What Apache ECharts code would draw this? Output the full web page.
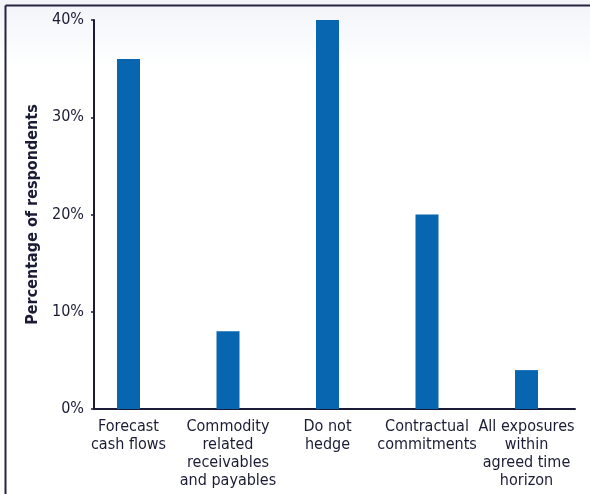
<!DOCTYPE html>
<html>
<head>
<meta charset="utf-8">
<script src="https://cdn.jsdelivr.net/npm/echarts@6/dist/echarts.min.js"></script>
<style>
  html, body { margin: 0; padding: 0; background: #ffffff; }
  #chart { width: 590px; height: 494px; }
</style>
</head>
<body>
<div id="chart"></div>
<script>
// Hedged exposure types
const categories = [
  'Forecast\ncash flows',
  'Commodity\nrelated\nreceivables\nand payables',
  'Do not\nhedge',
  'Contractual\ncommitments',
  'All exposures\nwithin\nagreed time\nhorizon'
];
// Share of respondents, %
const shares = [36, 8, 40, 20, 4];
// Value-axis tick labels
const yTicks = [0, 10, 20, 30, 40];

const FONT = "'DejaVu Sans Condensed', 'Liberation Sans Narrow', 'Roboto', sans-serif";
const INK = '#1b1b35';

const chart = echarts.init(document.getElementById('chart'), null, { renderer: 'canvas' });

chart.setOption({
  animation: false,
  backgroundColor: new echarts.graphic.LinearGradient(0, 0, 0, 1, [
    { offset: 0, color: '#f1f4f9' },
    { offset: 0.14, color: '#ffffff' },
    { offset: 1, color: '#ffffff' }
  ]),
  graphic: [
    { type: 'line', shape: { x1: 5.5, y1: 5.5, x2: 590, y2: 5.5 }, style: { stroke: '#24243f', lineWidth: 2 } },
    { type: 'line', shape: { x1: 5.5, y1: 5.5, x2: 5.5, y2: 494 }, style: { stroke: '#24243f', lineWidth: 2 } }
  ],
  grid: { left: 94, right: 15, top: 20, bottom: 85, containLabel: false },
  xAxis: {
    type: 'value',
    min: -0.3467,
    max: 4.4874,
    splitLine: { show: false },
    axisLine: { show: true, onZero: false, lineStyle: { color: INK, width: 2 } },
    axisTick: { show: false },
    axisLabel: {
      customValues: categories.map((_, i) => i),
      formatter: v => categories[Math.round(v)] || '',
      color: INK,
      fontFamily: FONT,
      fontSize: 16,
      lineHeight: 18,
      align: 'center',
      margin: 9
    }
  },
  yAxis: {
    type: 'value',
    min: 0,
    max: 40,
    interval: 10,
    name: 'Percentage of respondents',
    nameLocation: 'middle',
    nameGap: 52,
    nameTextStyle: { color: INK, fontFamily: FONT, fontSize: 16, fontWeight: 'bold' },
    splitLine: { show: false },
    axisLine: { show: true, onZero: false, lineStyle: { color: INK, width: 2 } },
    axisTick: { show: true, length: 3, lineStyle: { color: INK, width: 1.5 } },
    axisLabel: {
      formatter: v => (yTicks.includes(v) ? v + '%' : ''),
      color: INK,
      fontFamily: FONT,
      fontSize: 16,
      margin: 10
    }
  },
  series: [{
    type: 'bar',
    data: shares.map((v, i) => [i, v]),
    barWidth: 23,
    itemStyle: { color: '#0866b0' }
  }]
});
</script>
</body>
</html>
